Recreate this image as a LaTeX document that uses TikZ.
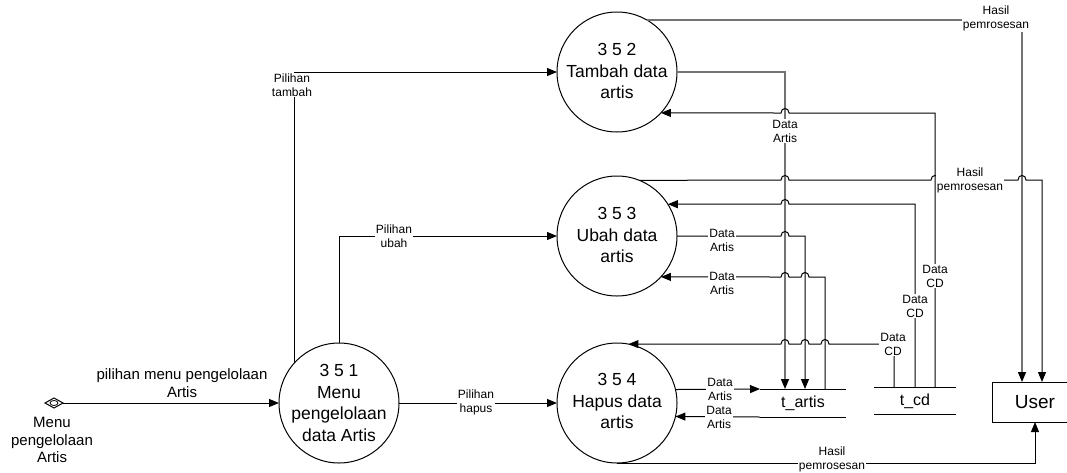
\documentclass[tikz,border=0pt]{standalone}
\usepackage{fontspec}
\setmainfont{Liberation Sans}
\usetikzlibrary{arrows.meta,shapes.geometric}
\begin{document}
\begin{tikzpicture}[x=1pt,y=-1pt,line width=1pt,
  every node/.style={inner sep=0pt},
  arr/.style={-{Triangle[length=10pt,width=8pt]}},
  garr/.style={-{Triangle[length=10pt,width=8pt,color=black]},draw=black!55,line width=1.5pt},
  proc/.style={draw,circle,minimum size=120pt,inner sep=0pt,outer sep=0pt},
  ptxt/.style={align=center,font=\fontsize{17.5}{21.5}\selectfont},
  lbl/.style={align=center,fill=white,inner sep=1pt,font=\fontsize{12}{14}\selectfont},
  mlbl/.style={align=center,font=\fontsize{15}{17.5}\selectfont},
  store/.style={minimum width=86pt,minimum height=28pt,outer sep=0pt,font=\fontsize{16}{18}\selectfont},
  ubox/.style={draw,minimum width=86pt,minimum height=40pt,outer sep=0pt,font=\fontsize{19}{22}\selectfont},
  srcd/.style={draw,diamond,minimum width=18pt,minimum height=10pt,inner sep=0pt,outer sep=0pt},
  jl/.style args={#1/#2}{insert path={-- (#1+4,#2) .. controls (#1+4,#2-6) and (#1-4,#2-6) .. (#1-4,#2)}},
  jr/.style args={#1/#2}{insert path={-- (#1-4,#2) .. controls (#1-4,#2-6) and (#1+4,#2-6) .. (#1+4,#2)}}]
\useasboundingbox (0,0) rectangle (1067,472);
\clip (0,0) rectangle (1067,472);

% column coordinates
\coordinate (x785) at (785,0);
\coordinate (x805) at (805,0);
\coordinate (x825) at (825,0);
\coordinate (x894) at (894,0);
\coordinate (x915) at (915,0);
\coordinate (x935) at (935,0);
\coordinate (x1022) at (1022,0);
\coordinate (x1042) at (1042,0);

% processes
\node[proc] (c1) at (339,403) {};
\node[ptxt] (c1t) at (339,403) {3 5 1\\Menu\\pengelolaan\\data Artis};
\node[proc] (c2) at (617,72) {};
\node[ptxt] (c2t) at (617,71) {3 5 2\\Tambah data\\artis};
\node[proc] (c3) at (617,236) {};
\node[ptxt] (c3t) at (617,235) {3 5 3\\Ubah data\\artis};
\node[proc] (c4) at (617,403) {};
\node[ptxt] (c4t) at (617,401) {3 5 4\\Hapus data\\artis};

% data stores
\node[store] (tart) at (803,403) {t\_artis};
\draw (tart.north west) -- (tart.north east) (tart.south west) -- (tart.south east);
\node[store,minimum width=82pt,minimum height=27pt] (tcd) at (915,401) {t\_cd};
\draw (tcd.north west) -- (tcd.north east) (tcd.south west) -- (tcd.south east);

% external entity
\node[ubox] (user) at (1035,402) {User};

% source
\node[srcd] (src) at (54,403) {};
\draw[line width=0.8pt] (src.center) ellipse [x radius=4, y radius=2.5];
\node[mlbl] (srcl) at (52,440) {Menu\\pengelolaan\\Artis};

% flows
\draw[arr] (src.east) -- (c1.west);
\draw[arr] (c1.138.6) |- (c2.west);
\draw[arr] (c1.north) |- (c3.west);
\draw[arr] (c1.east) -- (c4.west);

\draw[garr] (c2.60.1) -| (x1022 |- user.north);
\draw[garr] (c2.east) -| (x785 |- tart.north);
\draw[arr] (x935 |- tcd.north) -- (935,113) [jl=785/113] -- (c2.-43.11);

\draw[arr] (c3.68.96) [jr=785/180] [jr=935/180] [jr=1022/180] -| (x1042 |- user.north);
\draw[arr] (x915 |- tcd.north) -- (915,204) [jl=785/204] -- (c3.32.23);
\draw[arr] (c3.east) [jr=785/236] -| (x805 |- tart.north);
\draw[arr] (x825 |- tart.north) -- (825,277) [jl=805/277] [jl=785/277] -- (c3.-43.11);

\draw[arr] (x894 |- tcd.north) -- (894,344) [jl=825/344] [jl=805/344] [jl=785/344] -- (c4.79.5);
\draw[arr] (c4.13.49) -- (tart.north west);
\draw[arr] (tart.south west) -- (c4.-13.49);
\draw[arr] (c4.south) -| (user.south);

% labels
\node[mlbl] (la) at (182,383) {pilihan menu pengelolaan\\Artis};
\node[lbl] (lb) at (292,85) {Pilihan\\tambah};
\node[lbl] (lc) at (394,236) {Pilihan\\ubah};
\node[lbl] (ld) at (476,402) {Pilihan\\hapus};
\node[lbl] (le) at (996,18) {Hasil\\pemrosesan};
\node[lbl] (lf) at (785,131) {Data\\Artis};
\node[lbl] (lg) at (935,276) {Data\\CD};
\node[lbl] (lh) at (970,180) {Hasil\\pemrosesan};
\node[lbl] (li) at (915,306) {Data\\CD};
\node[lbl] (lj) at (722,240) {Data\\Artis};
\node[lbl] (lk) at (722,283) {Data\\Artis};
\node[lbl] (ll) at (893,344) {Data\\CD};
\node[lbl] (lm) at (720,389) {Data\\Artis};
\node[lbl] (ln) at (719,417) {Data\\Artis};
\node[lbl] (lo) at (832,459) {Hasil\\pemrosesan};
\end{tikzpicture}
\end{document}
